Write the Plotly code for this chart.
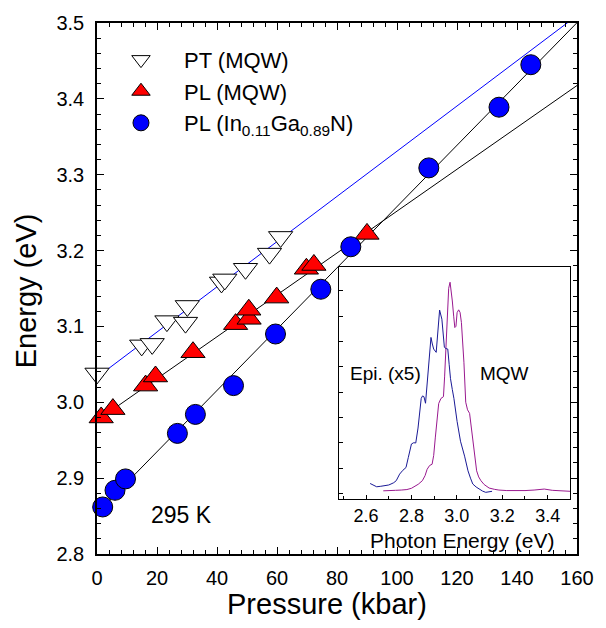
import plotly.graph_objects as go

# ---------------- data ----------------
pt_pressure = [0, 14.9, 18.4, 23.3, 29.5, 30.1, 41.5, 42.6, 49.5, 57.5, 61.2]
pt_energy = [3.038, 3.075, 3.077, 3.107, 3.105, 3.127, 3.158, 3.162, 3.176, 3.196, 3.218]

pl_mqw_pressure = [1.4, 5.3, 16.2, 19.5, 32.0, 46.2, 50.7, 50.6, 59.9, 69.8, 72.3, 90.0]
pl_mqw_energy = [2.980, 2.991, 3.022, 3.034, 3.066, 3.103, 3.110, 3.122, 3.138, 3.176, 3.181, 3.222]

pl_epi_pressure = [1.9, 6.0, 9.5, 26.8, 32.8, 45.5, 59.5, 74.6, 84.6, 110.6, 134.0, 144.6]
pl_epi_energy = [2.862, 2.884, 2.899, 2.959, 2.984, 3.022, 3.090, 3.149, 3.205, 3.309, 3.389, 3.445]

# linear fits E = intercept + slope * P
pt_fit = [3.033, 0.00298]
pl_mqw_fit = [2.976, 0.00276]
pl_epi_fit = [2.854, 0.00404]
fit_pressure = [0, 160]

# inset spectra
mqw_photon = [2.676, 2.70, 2.73, 2.755, 2.78, 2.80, 2.812, 2.83, 2.848, 2.860, 2.869, 2.880,
              2.891, 2.898, 2.905, 2.913, 2.92, 2.930, 2.941, 2.946, 2.951, 2.958, 2.964,
              2.970, 2.975, 2.980, 2.986, 2.991, 2.996, 3.001, 3.008, 3.014, 3.020, 3.026,
              3.031, 3.039, 3.047, 3.056, 3.063, 3.070, 3.078, 3.087, 3.096, 3.106, 3.12,
              3.142, 3.165, 3.185, 3.22, 3.256, 3.30, 3.34, 3.385, 3.42, 3.46, 3.5]
mqw_intensity = [0.10, 0.10, 0.12, 0.13, 0.15, 0.20, 0.26, 0.36, 0.50, 0.70, 0.95, 1.10,
                 1.15, 1.5, 2.19, 3.0, 3.55, 3.75, 3.82, 4.6, 5.57, 7.53, 8.1,
                 8.34, 8.0, 7.6, 7.0, 6.55, 6.6, 7.14, 7.25, 7.15, 6.75, 6.0,
                 5.18, 3.6, 3.3, 3.16, 2.6, 2.06, 1.4, 0.89, 0.65, 0.5, 0.35,
                 0.21, 0.16, 0.13, 0.11, 0.105, 0.11, 0.13, 0.17, 0.12, 0.10, 0.08]

epi_photon = [2.618, 2.632, 2.647, 2.665, 2.683, 2.70, 2.71, 2.722, 2.733, 2.748, 2.762,
              2.776, 2.786, 2.80, 2.81, 2.819, 2.829, 2.836, 2.843, 2.849, 2.855, 2.862,
              2.872, 2.880, 2.886, 2.892, 2.898, 2.909, 2.916, 2.924, 2.934, 2.940, 2.945,
              2.952, 2.96, 2.966, 2.972, 2.98, 2.987, 3.001, 3.016, 3.034, 3.049, 3.06,
              3.07, 3.085, 3.099, 3.113, 3.127, 3.14, 3.155]
epi_intensity = [0.39, 0.33, 0.26, 0.28, 0.30, 0.33, 0.37, 0.42, 0.50, 0.76, 0.91,
                 1.02, 1.41, 1.95, 2.0, 1.99, 2.58, 3.2, 3.75, 3.85, 3.82, 3.56,
                 4.79, 5.6, 6.16, 5.9, 5.70, 5.57, 6.4, 7.24, 6.88, 6.2, 5.77,
                 5.72, 5.70, 5.1, 4.53, 4.1, 3.75, 2.84, 2.06, 1.47, 0.89, 0.6,
                 0.37, 0.25, 0.16, 0.09, 0.04, 0.06, 0.08]

x_ticks = [0, 20, 40, 60, 80, 100, 120, 140, 160]
y_ticks = [2.8, 2.9, 3.0, 3.1, 3.2, 3.3, 3.4, 3.5]
inset_x_ticks = [2.6, 2.8, 3.0, 3.2, 3.4]

FONT = "Liberation Sans, Arial, sans-serif"

def fit_line(coef):
    return [coef[0] + coef[1] * p for p in fit_pressure]

fig = go.Figure()

# fit lines
fig.add_trace(go.Scatter(x=fit_pressure, y=fit_line(pt_fit), mode="lines",
                         line=dict(color="#0000ff", width=1), showlegend=False, hoverinfo="skip"))
fig.add_trace(go.Scatter(x=fit_pressure, y=fit_line(pl_mqw_fit), mode="lines",
                         line=dict(color="black", width=1), showlegend=False, hoverinfo="skip"))
fig.add_trace(go.Scatter(x=fit_pressure, y=fit_line(pl_epi_fit), mode="lines",
                         line=dict(color="black", width=1), showlegend=False, hoverinfo="skip"))

# data markers
fig.add_trace(go.Scatter(x=pt_pressure, y=pt_energy, mode="markers", name="PT (MQW)",
                         cliponaxis=False,
                         marker=dict(symbol="triangle-down", size=21, color="white",
                                     line=dict(color="black", width=1))))
fig.add_trace(go.Scatter(x=pl_mqw_pressure, y=pl_mqw_energy, mode="markers", name="PL (MQW)",
                         cliponaxis=False,
                         marker=dict(symbol="triangle-up", size=21, color="#ff0000",
                                     line=dict(color="black", width=1))))
fig.add_trace(go.Scatter(x=pl_epi_pressure, y=pl_epi_energy, mode="markers",
                         name="PL (In<sub>0.11</sub>Ga<sub>0.89</sub>N)",
                         cliponaxis=False,
                         marker=dict(symbol="circle", size=20, color="#0000ff",
                                     line=dict(color="black", width=1))))

# inset spectra
fig.add_trace(go.Scatter(x=mqw_photon, y=mqw_intensity, mode="lines", xaxis="x2", yaxis="y2",
                         line=dict(color="#99198f", width=1), showlegend=False, hoverinfo="skip"))
fig.add_trace(go.Scatter(x=epi_photon, y=epi_intensity, mode="lines", xaxis="x2", yaxis="y2",
                         line=dict(color="#1a1a96", width=1), showlegend=False, hoverinfo="skip"))

L, R, T, B = 97, 20, 17, 74
W, H = 606, 628
pw, ph = W - L - R, H - T - B

def px(xp):
    return (xp - L) / pw

def py(yp):
    return (H - B - yp) / ph

axis_common = dict(showline=True, linecolor="black", linewidth=1.5, mirror="ticks",
                   ticks="inside", tickcolor="black", ticklen=7, tickwidth=1,
                   showgrid=False, zeroline=False,
                   tickfont=dict(family=FONT, size=20, color="black"))

fig.update_layout(
    width=W, height=H, autosize=False,
    margin=dict(l=L, r=R, t=T, b=B, pad=0),
    plot_bgcolor="white", paper_bgcolor="white",
    font=dict(family=FONT, color="black"),
    xaxis=dict(range=[0, 160], tickvals=x_ticks, ticklabelstandoff=5,
               minor=dict(dtick=4, ticks="inside", ticklen=4, tickcolor="black", showgrid=False),
               **axis_common),
    yaxis=dict(range=[2.8, 3.5], tickvals=y_ticks, tickformat=".1f", ticklabelstandoff=7,
               minor=dict(dtick=0.02, ticks="inside", ticklen=4, tickcolor="black", showgrid=False),
               **axis_common),
    xaxis2=dict(domain=[px(343.3), px(579.3)], anchor="y2", range=[2.48, 3.5],
                tickvals=inset_x_ticks, tickformat=".1f",
                showline=True, linecolor="black", linewidth=1, mirror=True,
                ticks="inside", ticklen=4, tickcolor="black",
                minor=dict(dtick=0.1, ticks="inside", ticklen=3, tickcolor="black"),
                showgrid=False, zeroline=False, ticklabelstandoff=0,
                tickfont=dict(family=FONT, size=18, color="black")),
    yaxis2=dict(domain=[py(498.3), py(263.3)], anchor="x2", range=[-0.22, 8.96],
                tickvals=list(range(0, 9)), showticklabels=False,
                showline=True, linecolor="black", linewidth=1, mirror=True,
                ticks="inside", ticklen=4, tickcolor="black",
                showgrid=False, zeroline=False),
    legend=dict(x=px(98), y=py(33), xanchor="left", yanchor="top",
                bgcolor="rgba(0,0,0,0)", borderwidth=0, itemwidth=76,
                font=dict(family=FONT, size=22, color="black"),
                itemsizing="trace", tracegroupgap=0),
    showlegend=True,
)

annotations = [
    dict(text="Pressure (kbar)", x=px(331.5), y=py(605), font=dict(size=29)),
    dict(text="Energy (eV)", x=px(25), y=py(288), textangle=-90, font=dict(size=29)),
    dict(text="295 K", x=px(183), y=py(515), font=dict(size=23)),
    dict(text="Epi. (x5)", x=px(391), y=py(371), font=dict(size=19)),
    dict(text="MQW", x=px(512.5), y=py(371), font=dict(size=19)),
    dict(text="Photon Energy (eV)", x=px(468.8), y=py(540), font=dict(size=21)),
]
for a in annotations:
    fig.add_annotation(xref="paper", yref="paper", showarrow=False,
                       xanchor="center", yanchor="middle",
                       font=dict(family=FONT, color="black", size=a["font"]["size"]),
                       text=a["text"], x=a["x"], y=a["y"], textangle=a.get("textangle", 0))

fig.write_html("out.html")
